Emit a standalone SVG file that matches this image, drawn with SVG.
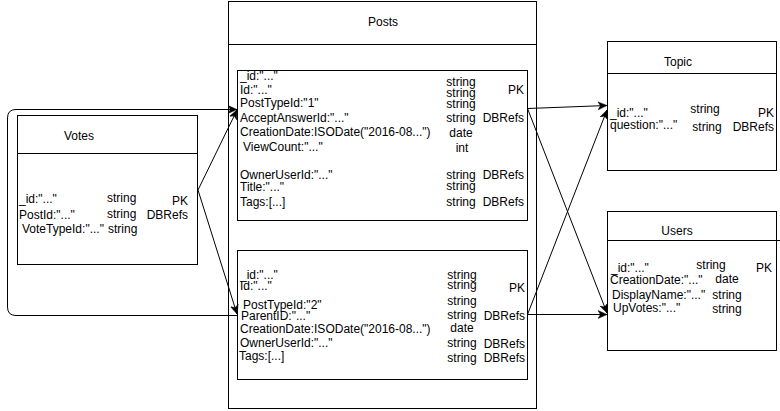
<svg xmlns="http://www.w3.org/2000/svg" width="780" height="411" viewBox="0 0 780 411">
<style>
.box{fill:#fff;stroke:#000;stroke-width:1}
.ln{fill:none;stroke:#000;stroke-width:1}
text{font-family:"Liberation Sans",Arial,Helvetica,sans-serif;font-size:12px;fill:#000}
.m{text-anchor:middle}
.e{text-anchor:end}
</style>
<defs>
<marker id="arr" markerUnits="userSpaceOnUse" markerWidth="10" markerHeight="10" viewBox="0 0 10 10" refX="9" refY="5" orient="auto">
<path d="M0,1 L9,5 L0,9 L2.5,5 Z" fill="#000" stroke="#000" stroke-width="0.5"/>
</marker>
</defs>
<rect width="780" height="411" fill="#fff"/>

<g id="posts">
<rect class="box" x="228.5" y="1.5" width="308" height="407"/>
<line class="ln" x1="228.5" y1="44.5" x2="536.5" y2="44.5"/>
<text class="m" x="383" y="26">Posts</text>
</g>

<g id="posts-question">
<rect class="box" x="237.5" y="70.5" width="290" height="150"/>
<text x="240" y="80">_id:"..."</text>
<text x="240" y="94">Id:"..."</text>
<text x="240" y="107">PostTypeId:"1"</text>
<text x="240" y="122">AcceptAnswerId:"..."</text>
<text x="240" y="136">CreationDate:ISODate("2016-08...")</text>
<text x="243" y="151">ViewCount:"..."</text>
<text x="240" y="179">OwnerUserId:"..."</text>
<text x="240" y="191">Title:"..."</text>
<text x="240" y="206">Tags:[...]</text>
<text class="m" x="461" y="86">string</text>
<text class="m" x="461" y="97">string</text>
<text class="m" x="461" y="108">string</text>
<text class="m" x="461" y="122">string</text>
<text class="m" x="461" y="137">date</text>
<text class="m" x="462" y="152">int</text>
<text class="m" x="461" y="179">string</text>
<text class="m" x="461" y="190">string</text>
<text class="m" x="461" y="206">string</text>
<text class="e" x="524" y="94">PK</text>
<text class="e" x="524" y="122">DBRefs</text>
<text class="e" x="524" y="179">DBRefs</text>
<text class="e" x="524" y="206">DBRefs</text>
</g>

<g id="posts-answer">
<rect class="box" x="237.5" y="250.5" width="290" height="129"/>
<text x="240" y="279">_id:"..."</text>
<text x="240" y="290">Id:"..."</text>
<text x="243" y="309">PostTypeId:"2"</text>
<text x="241" y="320">ParentID:"..."</text>
<text x="240" y="333">CreationDate:ISODate("2016-08...")</text>
<text x="240" y="347">OwnerUserId:"..."</text>
<text x="239" y="360">Tags:[...]</text>
<text class="m" x="462" y="279">string</text>
<text class="m" x="462" y="289">string</text>
<text class="m" x="462" y="305">string</text>
<text class="m" x="462" y="319">string</text>
<text class="m" x="462" y="332">date</text>
<text class="m" x="462" y="347">string</text>
<text class="m" x="462" y="362">string</text>
<text class="e" x="525" y="292">PK</text>
<text class="e" x="525" y="320">DBRefs</text>
<text class="e" x="525" y="348">DBRefs</text>
<text class="e" x="525" y="362">DBRefs</text>
</g>

<g id="votes">
<rect class="box" x="17.5" y="115.5" width="180" height="149"/>
<line class="ln" x1="17.5" y1="153.5" x2="197.5" y2="153.5"/>
<text class="m" x="79" y="140">Votes</text>
<text x="19" y="203">_id:"..."</text>
<text x="19" y="219">PostId:"..."</text>
<text x="22" y="233">VoteTypeId:"..."</text>
<text x="107" y="202">string</text>
<text x="107" y="218">string</text>
<text x="108" y="233">string</text>
<text class="e" x="188" y="205">PK</text>
<text class="e" x="188" y="219">DBRefs</text>
</g>

<g id="topic">
<rect class="box" x="607.5" y="41.5" width="169" height="129"/>
<line class="ln" x1="607.5" y1="73.5" x2="776.5" y2="73.5"/>
<text class="m" x="678" y="66">Topic</text>
<text x="610" y="117">_id:"..."</text>
<text x="610" y="129">question:"..."</text>
<text class="m" x="705" y="113">string</text>
<text class="m" x="707" y="131">string</text>
<text class="e" x="774" y="117">PK</text>
<text class="e" x="774" y="131">DBRefs</text>
</g>

<g id="users">
<rect class="box" x="607.5" y="211.5" width="169" height="139"/>
<line class="ln" x1="607.5" y1="240.5" x2="780" y2="240.5"/>
<text class="m" x="677" y="235">Users</text>
<text x="611" y="272">_id:"..."</text>
<text x="610" y="284">CreationDate:"..."</text>
<text x="612" y="299">DisplayName:"..."</text>
<text x="613" y="312">UpVotes:"..."</text>
<text class="m" x="711" y="269">string</text>
<text class="m" x="727" y="283">date</text>
<text class="m" x="727" y="299">string</text>
<text class="m" x="727" y="313">string</text>
<text class="e" x="772" y="272">PK</text>
</g>

<g id="connectors">
<path class="ln" d="M237.5,315.5 H16 Q7.5,315.5 7.5,307 V118 Q7.5,109.5 16,109.5 H237" marker-end="url(#arr)"/>
<line class="ln" x1="198" y1="190" x2="237" y2="110" marker-end="url(#arr)"/>
<line class="ln" x1="198" y1="190" x2="237" y2="314" marker-end="url(#arr)"/>
<line class="ln" x1="527.5" y1="108.5" x2="607" y2="105.5" marker-end="url(#arr)"/>
<line class="ln" x1="527.5" y1="108.5" x2="607" y2="313" marker-end="url(#arr)"/>
<line class="ln" x1="527.5" y1="314.5" x2="607" y2="110" marker-end="url(#arr)"/>
<line class="ln" x1="527.5" y1="314.5" x2="607" y2="314.5" marker-end="url(#arr)"/>
</g>
</svg>
